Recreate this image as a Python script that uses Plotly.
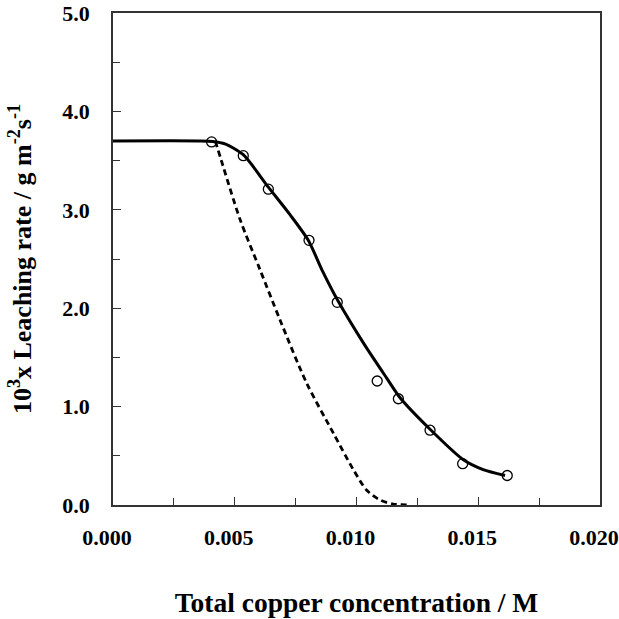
import plotly.graph_objects as go

# Measured leaching rates (x 10^3, g m^-2 s^-1) vs total copper concentration (M)
conc_meas = [0.00405, 0.00535, 0.00638, 0.00805, 0.00921, 0.01085, 0.01172, 0.01302, 0.01436, 0.01619]
rate_meas = [3.69, 3.55, 3.21, 2.69, 2.06, 1.26, 1.08, 0.76, 0.42, 0.30]

# Model curve (solid)
conc_model = [0.0, 0.0035, 0.0041, 0.0046, 0.00535, 0.00638, 0.00727, 0.00802, 0.0086, 0.00925,
              0.01030, 0.01124, 0.01179, 0.01302, 0.01439, 0.0152, 0.0161]
rate_model = [3.70, 3.70, 3.695, 3.67, 3.56, 3.23, 2.95, 2.69, 2.38, 2.07,
              1.64, 1.29, 1.09, 0.77, 0.46, 0.36, 0.30]

# Alternative model curve (dashed)
conc_alt = [0.0042, 0.00445, 0.00522, 0.00604, 0.00686, 0.00795, 0.00905, 0.00987, 0.01042, 0.01097, 0.01150, 0.01220]
rate_alt = [3.70, 3.50, 2.90, 2.39, 1.88, 1.24, 0.73, 0.36, 0.15, 0.05, 0.01, 0.0]

FONT = "Liberation Serif"
BOLD_TICK = dict(family=FONT, size=22, color="black", weight="bold")

fig = go.Figure()
fig.add_trace(go.Scatter(
    x=conc_alt, y=rate_alt, mode="lines", line_shape="spline",
    line=dict(color="black", width=2.8, dash="6px,4px", smoothing=0.8), showlegend=False))
fig.add_trace(go.Scatter(
    x=conc_model, y=rate_model, mode="lines", line_shape="spline",
    line=dict(color="black", width=3, smoothing=0.7), showlegend=False))
fig.add_trace(go.Scatter(
    x=conc_meas, y=rate_meas, mode="markers",
    marker=dict(symbol="circle-open", size=10, color="black", line=dict(width=1.3)),
    showlegend=False))

axis_common = dict(
    showgrid=False, zeroline=False, showline=True, linecolor="#333333", linewidth=1.6,
    mirror=True, ticks="inside", ticklen=8, tickwidth=1.2, tickcolor="#333333",
    tickfont=BOLD_TICK, ticklabeloverflow="allow",
)

fig.update_xaxes(
    range=[0, 0.02], tickvals=[0, 0.005, 0.01, 0.015, 0.02],
    ticktext=["0.000", "0.005", "0.010", "0.015", "0.020"],
    minor=dict(tickvals=[0.0025, 0.0075, 0.0125, 0.0175], ticks="inside", ticklen=7,
               tickwidth=1.2, tickcolor="#333333"),
    ticklabelstandoff=12, ticklabelshift=-6,
    title=dict(text="Total copper concentration / M",
               font=dict(family=FONT, size=27.5, color="black", weight="bold"), standoff=44),
    **axis_common)
fig.update_yaxes(
    range=[0, 5], tickvals=[0, 1, 2, 3, 4, 5],
    ticktext=["0.0", "1.0", "2.0", "3.0", "4.0", "5.0"],
    minor=dict(tickvals=[0.5, 1.5, 2.5, 3.5, 4.5], ticks="inside", ticklen=7,
               tickwidth=1.2, tickcolor="#333333"),
    ticklabelstandoff=17,
    title=dict(text="10<sup>3</sup>x Leaching rate / g m<sup>-2</sup>s<sup>-1</sup>",
               font=dict(family=FONT, size=26, color="black", weight="bold"), standoff=23),
    **axis_common)

fig.update_layout(
    width=619, height=619,
    margin=dict(l=113, r=19, t=13, b=114, autoexpand=False),
    paper_bgcolor="white", plot_bgcolor="white",
    font=dict(family=FONT, color="black"),
)

fig.write_html("out.html")
